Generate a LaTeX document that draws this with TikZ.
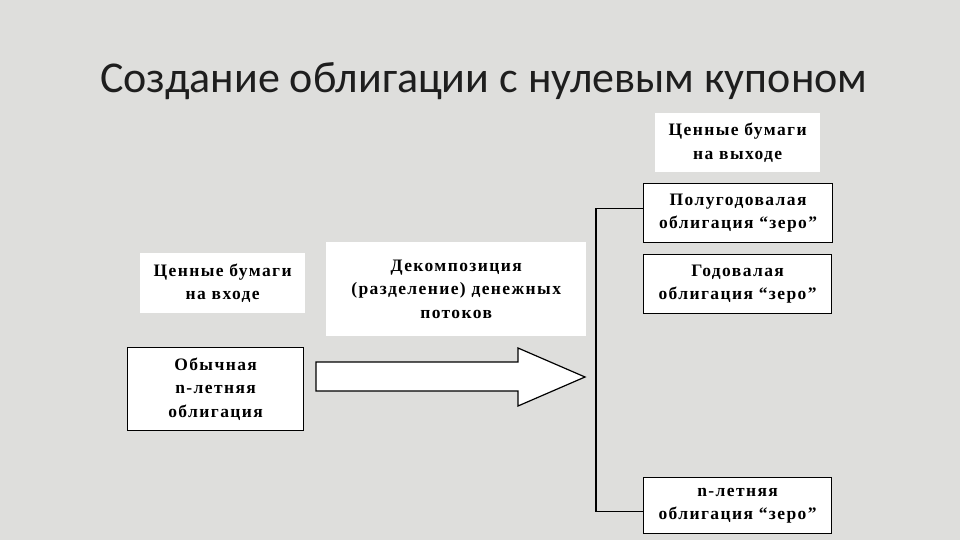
\documentclass[tikz,border=0pt]{standalone}
\usepackage{fontspec}
\setmainfont{Liberation Serif}
\newfontfamily\titlefont{Carlito}
\usepackage{xcolor}
\definecolor{slidegray}{RGB}{222,222,220}
\definecolor{titleink}{RGB}{30,30,30}
\newcommand{\boxfont}{\fontsize{17.5}{23.5}\selectfont\bfseries\addfontfeatures{LetterSpace=8}}

\begin{document}
\begin{tikzpicture}[x=1pt,y=-1pt]
\tikzset{
  wbox/.style={fill=white,align=center,inner sep=0pt,anchor=north west,font=\boxfont},
  bbox/.style={wbox,draw=black,line width=1.2pt},
}
% slide background
\fill[slidegray] (0,0) rectangle (960,540);
\node[anchor=base west,inner sep=0pt,text=titleink,font=\titlefont\fontsize{44}{50}\selectfont] (title) at (100,93) {Создание облигации с нулевым купоном};
% left side
\node[wbox,minimum width=165,minimum height=60] (inhead) at (140,253) {Ценные бумаги\\на входе};
\node[bbox,minimum width=176,minimum height=83] (bond) at (127,347) {Обычная\\n-летняя\\облигация};
% middle
\node[wbox,minimum width=260,minimum height=94] (decomp) at (326,242) {Декомпозиция\\(разделение) денежных\\потоков};
\draw[line width=1.2pt,fill=white,line join=miter] (316,362) -- (518,362) -- (518,348) -- (585,377) -- (518,406) -- (518,391) -- (316,391) -- cycle;
% right side
\node[wbox,minimum width=165,minimum height=59] (outhead) at (655,113) {Ценные бумаги\\на выходе};
\node[bbox,minimum width=189,minimum height=59] (half) at (643,183) {Полугодовалая\\облигация “зеро”};
\node[bbox,minimum width=188,minimum height=59] (year) at (643,254) {Годовалая\\облигация “зеро”};
\node[bbox,minimum width=188,minimum height=56] (nyear) at (643,477) {n-летняя\\облигация “зеро”};
\draw[line width=1.2pt] ([yshift=5pt]half.west) -- ++(-47,0) |- ([yshift=-6pt]nyear.west);
\end{tikzpicture}
\end{document}
